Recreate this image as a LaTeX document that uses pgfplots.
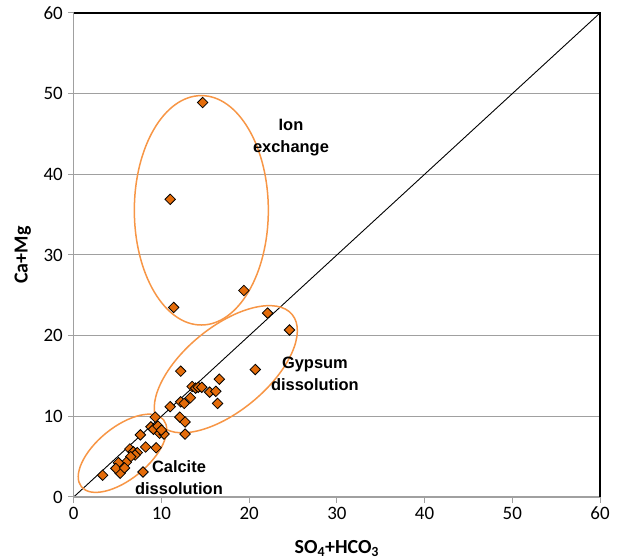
\documentclass[border=0pt]{standalone}
\usepackage{fontspec}
\setmainfont{Carlito}
\newfontfamily\arialfont{Liberation Sans}
\usepackage{pgfplots}
\pgfplotsset{compat=1.18}
\definecolor{mk}{HTML}{E46C0A}
\definecolor{el}{HTML}{F79646}
\definecolor{gr}{HTML}{A0A0A0}
\begin{document}
\begin{tikzpicture}
\begin{axis}[name=ax, scale only axis, width=526.3bp, height=484bp,
  xmin=0, xmax=60, ymin=0, ymax=60,
  xtick={0,10,...,60}, ytick={0,10,...,60},
  axis line style={draw=none},
  tick style={gr, line width=1bp}, tick align=outside, major tick length=5.7bp,
  xtick pos=left, ytick pos=left,
  ymajorgrids, grid style={gr, line width=1bp},
  ticklabel style={font=\fontsize{19}{19}\selectfont, inner sep=0pt},
  yticklabel style={xshift=-5bp},
  xticklabel style={yshift=-4bp},
  /pgf/number format/assume math mode=true,
  clip=false]
\addplot[black, line width=0.9bp] coordinates {(0,0) (60,60)};
\addplot[only marks, mark=square*, mark size=3.7bp,
  mark options={fill=mk, draw=black, line width=0.8bp, rotate=45}] coordinates {
(14.7,48.9) (11.0,36.9) (11.4,23.5) (19.4,25.6)
(22.1,22.8) (24.6,20.7) (12.2,15.6) (20.7,15.8) (16.6,14.6)
(13.5,13.7) (13.9,13.5) (14.2,13.6) (14.6,13.6) (15.5,13.0) (16.2,13.1)
(16.4,11.6) (11.0,11.2) (12.2,11.8) (12.6,11.6) (13.3,12.3)
(12.1,9.9) (12.7,9.3) (12.7,7.8)
(9.3,9.9) (8.8,8.7) (9.1,8.4) (9.6,8.8) (9.8,7.9) (10.3,7.8) (10.0,8.3)
(7.6,7.7) (8.2,6.2) (9.4,6.1) (6.4,5.95) (6.8,5.6) (7.25,5.5) (7.0,5.2)
(6.5,5.0) (6.0,4.3) (5.1,4.25) (5.3,2.95) (4.8,3.55) (5.8,3.6) (3.3,2.7) (7.9,3.1)
};
\draw[el, line width=1.5bp] (axis cs:14.55,35.54) ellipse [x radius=67bp, y radius=114.7bp];
\draw[el, line width=1.5bp, rotate around={39.5:(axis cs:17.34,15.84)}] (axis cs:17.34,15.84) ellipse [x radius=86bp, y radius=42bp];
\draw[el, line width=1.5bp, rotate around={39.2:(axis cs:5.56,5.42)}] (axis cs:5.56,5.42) ellipse [x radius=53bp, y radius=26bp];
\node[align=center, font=\arialfont\bfseries\fontsize{16.5}{22}\selectfont] at (axis cs:24.77,44.56) {Ion\\exchange};
\node[align=center, font=\arialfont\bfseries\fontsize{16.5}{22}\selectfont] at (axis cs:27.5,15.25) {Gypsum\\dissolution};
\node[align=center, font=\arialfont\bfseries\fontsize{16.5}{22}\selectfont] at (axis cs:12.0,2.36) {Calcite\\dissolution};
\draw[gr, line width=1.5bp] (rel axis cs:0,1) -- (rel axis cs:0,0) -- (rel axis cs:1,0);
\draw[black, line width=1.1bp] (rel axis cs:0,1) -- (rel axis cs:1,1) -- (rel axis cs:1,0);
\node[anchor=base, font=\bfseries\fontsize{20}{20}\selectfont] at ([yshift=-56bp]rel axis cs:0.5,0) {SO\textsubscript{4}+HCO\textsubscript{3}};
\node[anchor=base, rotate=90, font=\bfseries\fontsize{20}{20}\selectfont] at ([xshift=-46bp]rel axis cs:0,0.5) {Ca+Mg};
\end{axis}
\pgfresetboundingbox
\path ([xshift=-73.7bp,yshift=-63bp]ax.south west) rectangle ([xshift=17bp,yshift=13bp]ax.north east);
\end{tikzpicture}
\end{document}
